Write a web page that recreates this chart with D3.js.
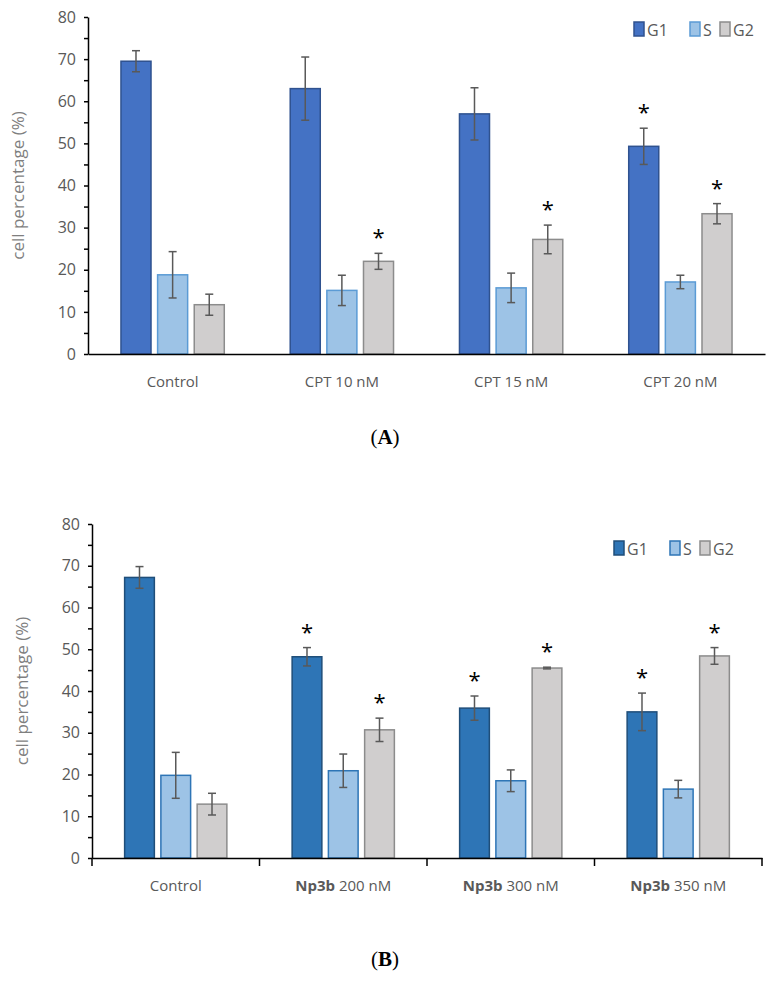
<!DOCTYPE html>
<html><head><meta charset="utf-8">
<script src="https://cdn.jsdelivr.net/npm/d3@7"></script>
<style>body{margin:0;background:#fff}text{font-family:"Open Sans",Calibri,sans-serif}</style>
</head><body><svg id="c" width="771" height="985"></svg>
<script>
// panel A data
var catsA = ["Control", "CPT 10 nM", "CPT 15 nM", "CPT 20 nM"]
var g1A = [69.5, 63.0, 57.0, 49.3], g1ErrA = [2.5, 7.5, 6.2, 4.3]
var sA = [18.8, 15.1, 15.7, 17.1], sErrA = [5.5, 3.6, 3.5, 1.6]
var g2A = [11.7, 22.0, 27.2, 33.3], g2ErrA = [2.5, 1.9, 3.4, 2.4]
var starsA = [[], ["G2"], ["G2"], ["G1", "G2"]]
// panel B data
var catsB = ["Control", "200 nM", "300 nM", "350 nM"]
var g1B = [67.2, 48.2, 35.9, 35.0], g1ErrB = [2.6, 2.2, 2.9, 4.5]
var sB = [19.8, 20.9, 18.5, 16.5], sErrB = [5.5, 4.0, 2.6, 2.1]
var g2B = [12.9, 30.7, 45.5, 48.4], g2ErrB = [2.6, 2.8, 0.2, 2.0]
var starsB = [[], ["G1", "G2"], ["G1", "G2"], ["G1", "G2"]]
var yTicks = [0, 10, 20, 30, 40, 50, 60, 70, 80]
var phases = ["G1", "S", "G2"]

var svg = d3.select("#c")

function panel(o) {
  var g = svg.append("g")
  var y = d3.scaleLinear().domain([0, 80]).range([o.y0, o.y1])
  var x = d3.scaleBand().domain(o.cats).range([o.x0, o.x1])
  var xi = d3.scaleBand().domain(phases).range([0, x.bandwidth()]).paddingInner(0.18).paddingOuter(0.9)
  var series = {G1: [o.g1, o.g1e], S: [o.s, o.se], G2: [o.g2, o.g2e]}
  var fill = {G1: o.c1, S: "#9dc3e6", G2: "#d0cece"}
  var stroke = {G1: o.s1, S: o.s2, G2: "#8c8c8c"}

  // y axis
  var ya = g.append("g").attr("transform", "translate(" + o.x0 + ",0)")
    .call(d3.axisLeft(y).tickValues(yTicks).tickSize(0).tickPadding(12).tickFormat(d3.format("d")))
  ya.select(".domain").attr("stroke", "#000").attr("stroke-width", 1.5)
  ya.selectAll("text").attr("fill", "#595959").style("font-size", "16px")
  g.append("g").attr("transform", "translate(" + o.x0 + ",0)")
    .call(d3.axisLeft(y).tickValues(d3.range(0, 81, 5)).tickSize(4).tickFormat(""))
    .select(".domain").remove()
  g.selectAll("line").attr("stroke", "#000").attr("stroke-width", 1.5)

  g.append("text").attr("transform", "translate(" + (o.x0 - 64) + "," + ((o.y0 + o.y1) / 2) + ") rotate(-90)")
    .attr("text-anchor", "middle").attr("fill", "#7f7f7f").style("font-size", "17px").text("cell percentage (%)")

  o.cats.forEach(function (c, i) {
    phases.forEach(function (p) {
      var v = series[p][0][i], e = series[p][1][i]
      var bx = x(c) + xi(p), bw = xi.bandwidth()
      g.append("rect").attr("x", bx).attr("y", y(v)).attr("width", bw).attr("height", y(0) - y(v))
        .attr("fill", fill[p]).attr("stroke", stroke[p]).attr("stroke-width", 1.5)
      var cx = bx + bw / 2
      g.append("line").attr("x1", cx).attr("x2", cx).attr("y1", y(v - e)).attr("y2", y(v + e)).attr("stroke", "#595959").attr("stroke-width", 1.5)
      ;[v - e, v + e].forEach(function (t) {
        g.append("line").attr("x1", cx - 4).attr("x2", cx + 4).attr("y1", y(t)).attr("y2", y(t)).attr("stroke", "#595959").attr("stroke-width", 1.5)
      })
      if (o.stars[i].indexOf(p) >= 0)
        g.append("text").attr("x", cx).attr("y", y(v + e) - 8).attr("text-anchor", "middle")
          .style("font-size", "22px").attr("fill", "#000").text("*")
    })
    var lab = g.append("text").attr("x", x(c) + x.bandwidth() / 2).attr("y", o.y0 + 33).attr("text-anchor", "middle")
      .attr("fill", "#595959").style("font-size", "15px")
    if (o.bold && i > 0) { lab.append("tspan").style("font-weight", "bold").text("Np3b "); lab.append("tspan").text(c) }
    else lab.text(c)
  })

  // x axis
  var xa = g.append("g").attr("transform", "translate(0," + y(0) + ")")
    .call(d3.axisBottom(x).tickSize(0).tickFormat(""))
  xa.select(".domain").attr("stroke", "#000").attr("stroke-width", 1.5)
  if (o.xticks) {
    o.cats.concat([null]).forEach(function (c, i) {
      var tx = o.x0 + i * x.bandwidth()
      g.append("line").attr("x1", tx).attr("x2", tx).attr("y1", y(0)).attr("y2", y(0) + 8).attr("stroke", "#000").attr("stroke-width", 1.5)
    })
  }

  // legend
  var lx = [o.lx, o.lx + 56, o.lx + 86]
  phases.forEach(function (p, k) {
    g.append("rect").attr("x", lx[k]).attr("y", o.ly - 12).attr("width", 10).attr("height", 14)
      .attr("fill", fill[p]).attr("stroke", stroke[p]).attr("stroke-width", 1.5)
    g.append("text").attr("x", lx[k] + 13).attr("y", o.ly + 2).attr("fill", "#595959").style("font-size", "16px").text(p)
  })

  var pl = svg.append("text").attr("x", o.px).attr("y", o.py).attr("text-anchor", "middle")
    .style("font-family", "Liberation Serif, serif").style("font-size", "21px")
  pl.append("tspan").text("(")
  pl.append("tspan").style("font-weight", "bold").text(o.plab)
  pl.append("tspan").text(")")
}

panel({cats: catsA, g1: g1A, g1e: g1ErrA, s: sA, se: sErrA, g2: g2A, g2e: g2ErrA, stars: starsA,
  x0: 88, x1: 765, y0: 354, y1: 17, c1: "#4472c4", s1: "#2f528f", s2: "#5b9bd5",
  lx: 634, ly: 34, px: 385, py: 444, plab: "A", xticks: false, bold: false})
panel({cats: catsB, g1: g1B, g1e: g1ErrB, s: sB, se: sErrB, g2: g2B, g2e: g2ErrB, stars: starsB,
  x0: 92, x1: 762, y0: 858, y1: 524, c1: "#2e75b6", s1: "#1f4e79", s2: "#2e75b6",
  lx: 614, ly: 553, px: 385, py: 966, plab: "B", xticks: true, bold: true})
</script></body></html>
